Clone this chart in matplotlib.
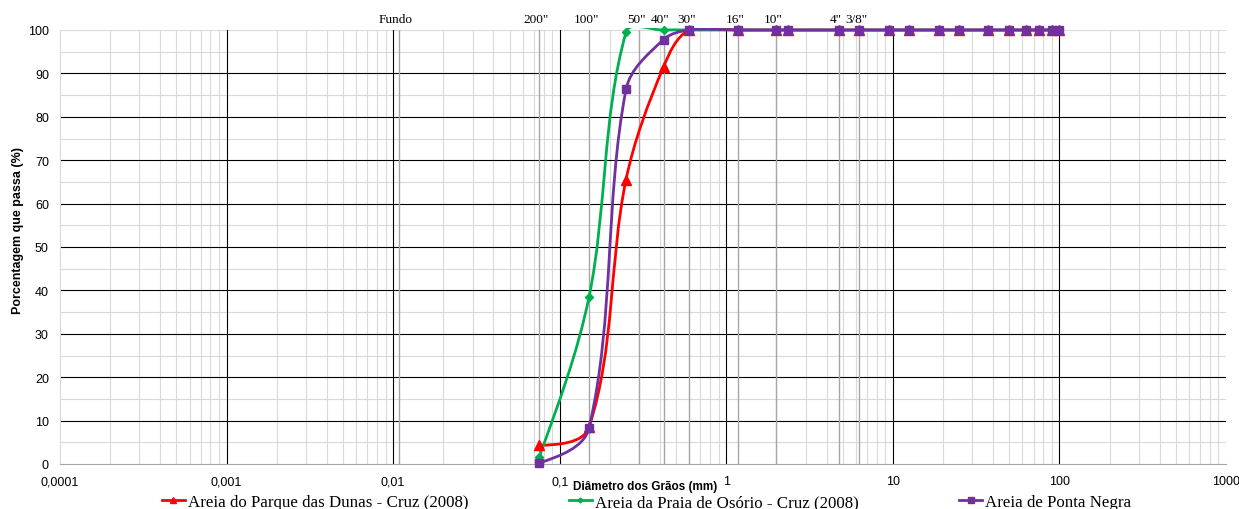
import numpy as np
import matplotlib
matplotlib.use("Agg")
import matplotlib.pyplot as plt
import matplotlib.transforms as mtransforms
from matplotlib.path import Path
from matplotlib.patches import PathPatch, Rectangle
from matplotlib.lines import Line2D
from matplotlib.ticker import NullLocator

# sieve openings (mm) used for the three curves
sieve_mm = [0.075, 0.15, 0.25, 0.42, 0.6, 1.18, 2.0, 2.36, 4.76, 6.3, 9.5,
            12.5, 19, 25, 37.5, 50, 63, 75, 90, 100]

# percent passing
dunas = [4.3, 8.5, 65.5, 91.5, 100, 100, 100, 100, 100, 100, 100,
         100, 100, 100, 100, 100, 100, 100, 100, 100]
osorio = [1.5, 38.5, 99.5, 100, 100, 100, 100, 100, 100, 100, 100,
          100, 100, 100, 100, 100, 100, 100, 100, 100]
ponta_negra = [0.2, 8.3, 86.3, 97.8, 100, 100, 100, 100, 100, 100, 100,
               100, 100, 100, 100, 100, 100, 100, 100, 100]

series_names = ["Areia do Parque das Dunas - Cruz (2008)",
                "Areia da Praia de Osório - Cruz (2008)",
                "Areia de Ponta Negra"]

# sieve reference lines along the top
sieve_labels = ["Fundo", '200"', '100"', '50"', '40"', '30"', '16"', '10"', '4"', '3/8"']
sieve_pos = [0.0108, 0.075, 0.15, 0.3, 0.42, 0.6, 1.18, 2.0, 4.76, 6.3]

x_ticks = [0.0001, 0.001, 0.01, 0.1, 1, 10, 100, 1000]
x_tick_labels = ["0,0001", "0,001", "0,01", "0,1", "1", "10", "100", "1000"]
y_ticks = list(range(0, 101, 10))


def smooth_path(ax, xs, ys, k=1 / 3):
    # Excel-like smoothed line, control points worked out in screen space
    P = ax.transData.transform(np.column_stack([xs, ys]))
    n = len(P)
    T = np.zeros_like(P)
    for i in range(1, n - 1):
        t = P[i + 1] - P[i - 1]
        T[i] = t / np.hypot(*t)
    verts = [P[0]]
    codes = [Path.MOVETO]
    for i in range(n - 1):
        d = np.hypot(*(P[i + 1] - P[i]))
        c1 = P[i] + T[i] * d * k if i > 0 else None
        c2 = P[i + 1] - T[i + 1] * d * k if i + 1 < n - 1 else None
        if c1 is None and c2 is None:
            c1 = P[i] + (P[i + 1] - P[i]) * k
            c2 = P[i + 1] - (P[i + 1] - P[i]) * k
        elif c1 is None:
            u = c2 - P[i]
            c1 = P[i] + u / np.hypot(*u) * d * k
        elif c2 is None:
            u = c1 - P[i + 1]
            c2 = P[i + 1] + u / np.hypot(*u) * d * k
        verts += [c1, c2, P[i + 1]]
        codes += [Path.CURVE4] * 3
    verts = ax.transData.inverted().transform(np.array(verts))
    return Path(verts, codes)


fig = plt.figure(figsize=(12.39, 5.10), dpi=100)
ax = fig.add_axes([60 / 1239, 1 - 465 / 510, 1166 / 1239, 434 / 510])
ax.set_xscale("log")
ax.set_xlim(0.0001, 1000)
ax.set_ylim(0, 100)

# grid
for d in range(-4, 3):
    for s in range(2, 10):
        ax.axvline(s * 10.0 ** d, color="#d9d9d9", lw=0.8, zorder=0.5)
for d in x_ticks[1:-1]:
    ax.axvline(d, color="black", lw=0.8, zorder=0.8)
for v in range(5, 100, 10):
    ax.axhline(v, color="#d9d9d9", lw=0.8, zorder=0.5)
ax.axhline(100, color="#d9d9d9", lw=0.8, zorder=0.5)
for v in range(10, 100, 10):
    ax.axhline(v, color="black", lw=0.8, zorder=0.8)
for p in sieve_pos:
    ax.axvline(p, color="#a6a6a6", lw=1.0, zorder=0.9)

lab_tr = mtransforms.offset_copy(ax.get_xaxis_transform(), fig=fig, x=-3, y=11, units="dots")
for lab, p in zip(sieve_labels, sieve_pos):
    ax.text(p, 1.0, lab, ha="center", va="center", transform=lab_tr,
            fontsize=9.5, family="Liberation Serif")

# curves (clipped at the plot area, with room for the line at 100 %)
clip = Rectangle((0, -0.004), 1, 1.0075, transform=ax.transAxes, visible=False)
ax.add_patch(clip)
styles = [("#ff0000", "^", 7, dunas),
          ("#00b050", "D", 4.5, osorio),
          ("#7030a0", "s", 6, ponta_negra)]
handles = []
for (color, mk, ms, vals), name in zip(styles, series_names):
    patch = PathPatch(smooth_path(ax, sieve_mm, vals), facecolor="none",
                      edgecolor=color, lw=2, zorder=3)
    ax.add_patch(patch)
    patch.set_clip_path(clip)
    ax.plot(sieve_mm, vals, linestyle="none", marker=mk, markersize=ms,
            color=color, zorder=4, clip_on=False)
    handles.append(Line2D([], [], color=color, lw=2, marker=mk, markersize=ms - 2))

ax.set_xticks(x_ticks, x_tick_labels)
ax.xaxis.set_minor_locator(NullLocator())
ax.set_yticks(y_ticks)
ax.tick_params(length=0, labelsize=9, pad=8)
for t in ax.get_xticklabels() + ax.get_yticklabels():
    t.set_family("Liberation Sans")

for s in ["top", "right"]:
    ax.spines[s].set_visible(False)
ax.spines["left"].set_color("#d9d9d9")
ax.spines["bottom"].set_color("#a6a6a6")

ax.text(0.502, -0.05, "Diâmetro dos Grãos (mm)", transform=ax.transAxes,
        ha="center", va="center", fontsize=8.5, fontweight="bold",
        family="Liberation Sans")
fig.text(18 / 1239, 1 - 231 / 510, "Porcentagem que passa (%)", rotation=90,
         ha="center", va="center", fontsize=9, fontweight="bold",
         family="Liberation Sans")

fig.legend(handles=handles, labels=series_names, loc="center", ncol=3,
           bbox_to_anchor=(0.522, 0.013), frameon=False, handlelength=1.36,
           handletextpad=0.2, columnspacing=5.9,
           prop={"family": "Liberation Serif", "size": 12.2})

fig.savefig("out.png", dpi=100)
